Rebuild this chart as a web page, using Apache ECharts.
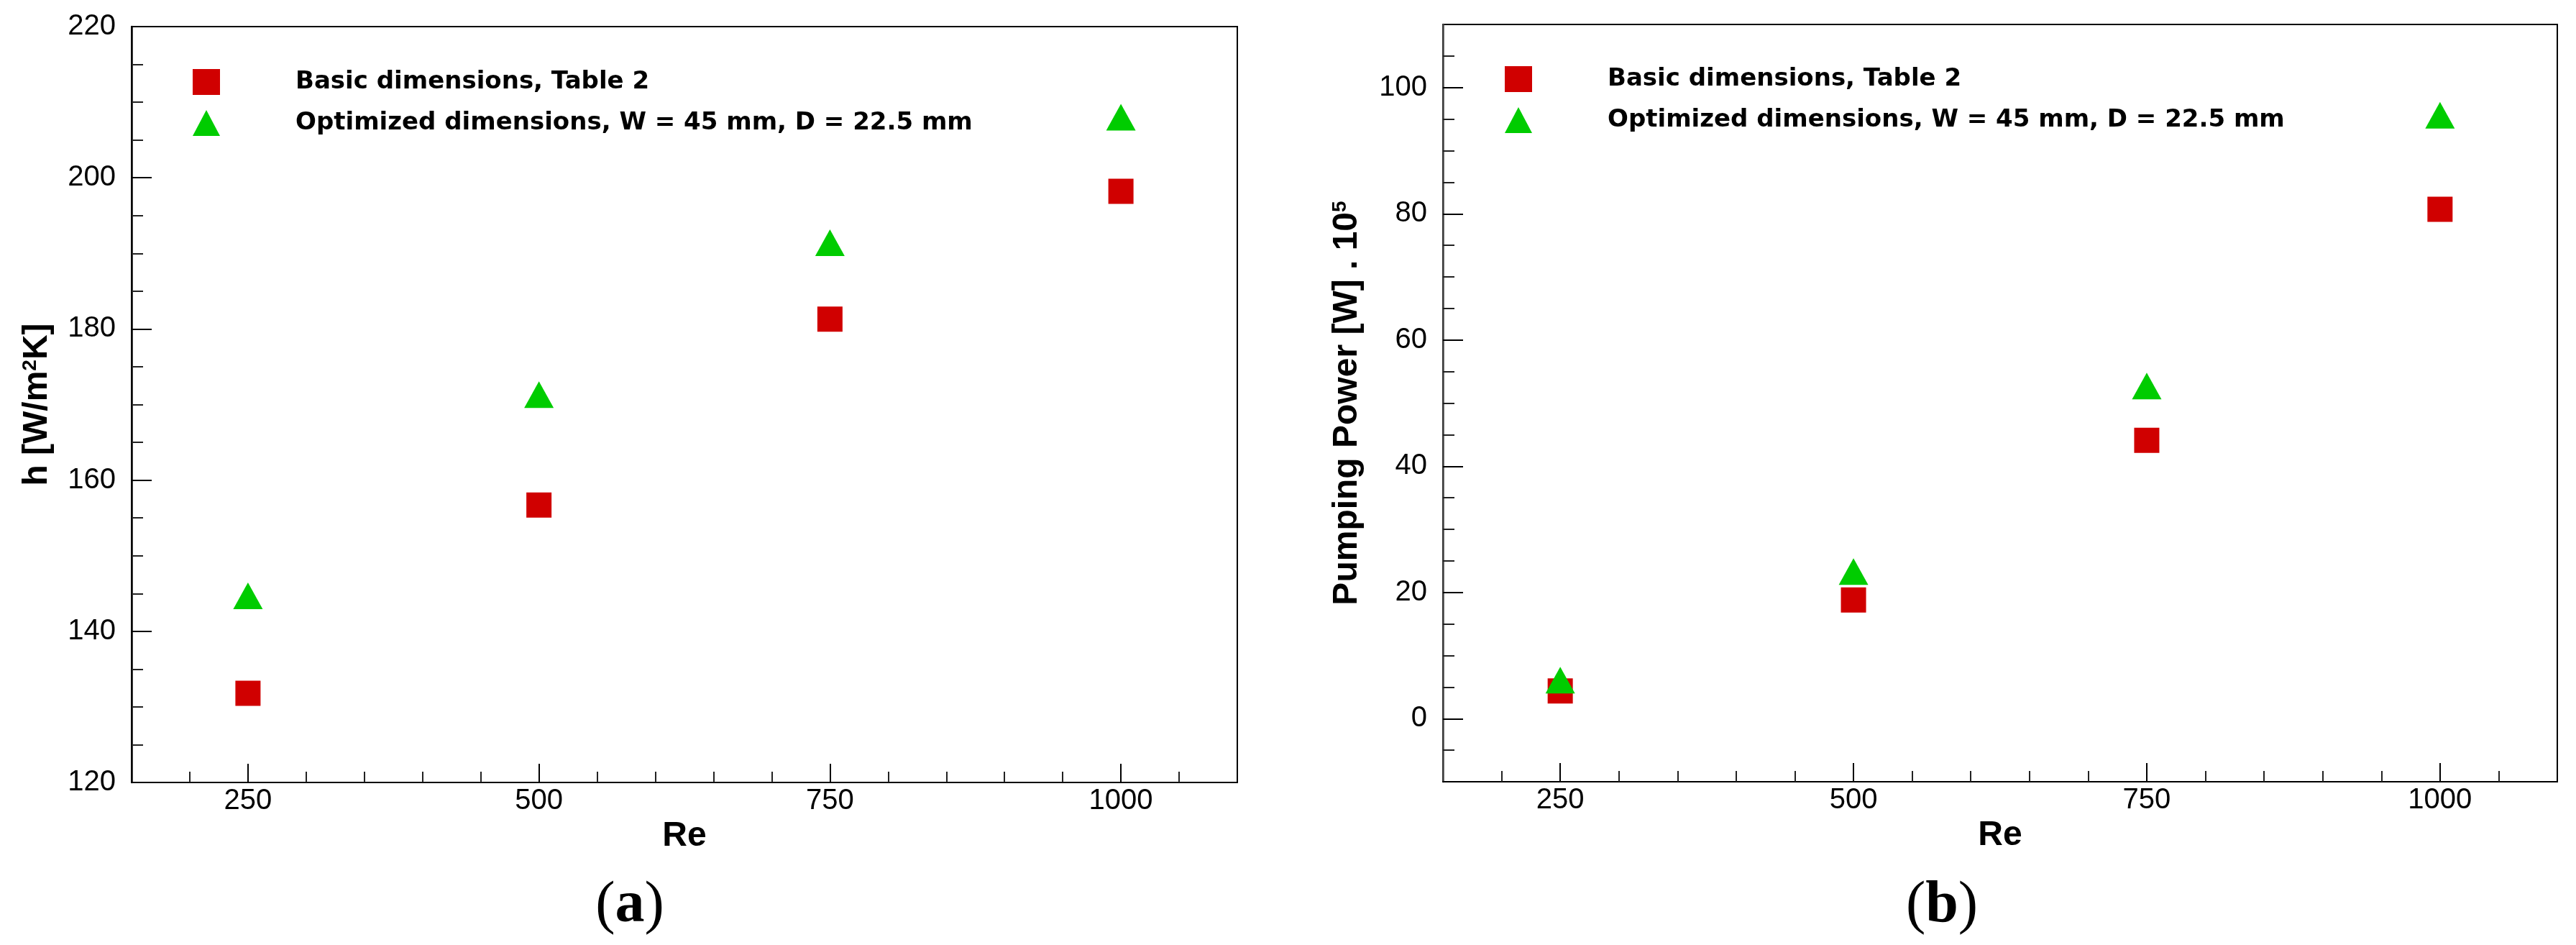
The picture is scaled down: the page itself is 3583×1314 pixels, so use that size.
<!DOCTYPE html>
<html>
<head>
<meta charset="utf-8">
<script src="https://cdn.jsdelivr.net/npm/echarts@6/dist/echarts.min.js"></script>
<style>
  html, body { margin: 0; padding: 0; background: #fff; }
  #chart { width: 3583px; height: 1314px; }
</style>
</head>
<body>
<div id="chart"></div>
<script>
// 数据：Re 数与两组尺寸的结果
const re = [250, 500, 750, 1000]
const hBasic = [131.8, 156.7, 181.3, 198.2]
const hOpt = [144.7, 171.3, 191.4, 208.0]
const ppBasic = [4.4, 18.8, 44.1, 80.7]
const ppOpt = [6.1, 23.3, 52.7, 95.6]

// 刻度
const reTicks = [250, 500, 750, 1000]
const reMinor = [200, 300, 350, 400, 450, 550, 600, 650, 700, 800, 850, 900, 950, 1050]
const hTicks = [120, 140, 160, 180, 200, 220]
const ppTicks = [0, 20, 40, 60, 80, 100]

const basicName = 'Basic dimensions, Table 2'
const optName = 'Optimized dimensions, W = 45 mm, D = 22.5 mm'

const RED = '#d00000'
const GREEN = '#00cc00'
const FONT = 'Liberation Sans, Arial, sans-serif'

// 次刻度：主刻度之间每隔 step
const minorOf = (min, max, step, majors) => {
    const out = []
    for (let v = min + step; v < max; v += step) {
        if (!majors.includes(v)) out.push(v)
    }
    return out
}

const pairs = (xs, ys) => xs.map((x, i) => [x, ys[i]])
const plain = (v) => String(v)

let chartInstance = echarts.init(document.getElementById('chart'))

// 主坐标轴（带标签和长刻度）
const mainX = (gridIndex) => ({
    type: 'value', gridIndex, position: 'bottom', min: 150, max: 1100,
    axisLine: { show: true, onZero: false, lineStyle: { color: '#000', width: 2 } },
    axisTick: { show: true, inside: true, length: 26, customValues: reTicks, lineStyle: { color: '#000', width: 2 } },
    axisLabel: { customValues: reTicks, formatter: plain, fontSize: 40, margin: 6, color: '#000', fontFamily: FONT },
    splitLine: { show: false },
    name: 'Re', nameLocation: 'middle', nameGap: 45,
    nameTextStyle: { fontSize: 48, fontWeight: 'bold', color: '#000', fontFamily: FONT }
})
// 次刻度轴（只画短刻度）
const minorX = (gridIndex) => ({
    type: 'value', gridIndex, position: 'bottom', min: 150, max: 1100,
    axisLine: { show: false, onZero: false },
    axisTick: { show: true, inside: true, length: 15, customValues: reMinor, lineStyle: { color: '#222', width: 2 } },
    axisLabel: { show: false },
    splitLine: { show: false }
})
const mainY = (gridIndex, min, max, ticks, name, gap, lineColor) => ({
    type: 'value', gridIndex, position: 'left', min, max,
    axisLine: { show: true, onZero: false, lineStyle: { color: lineColor, width: 2.5 } },
    axisTick: { show: true, inside: true, length: 28, customValues: ticks, lineStyle: { color: '#000', width: 2 } },
    axisLabel: { customValues: ticks, formatter: plain, fontSize: 40, margin: 22, color: '#000', fontFamily: FONT },
    splitLine: { show: false },
    name, nameLocation: 'middle', nameGap: gap,
    nameTextStyle: {
        color: '#000',
        rich: {
            t: { fontSize: 48, fontWeight: 'bold', fontFamily: FONT, color: '#000', lineHeight: 48 },
            s: { fontSize: 28, fontWeight: 'bold', fontFamily: FONT, color: '#000', verticalAlign: 'top' }
        }
    }
})
const minorY = (gridIndex, min, max, ticks) => ({
    type: 'value', gridIndex, position: 'left', min, max,
    axisLine: { show: false, onZero: false },
    axisTick: { show: true, inside: true, length: 16, customValues: ticks, lineStyle: { color: '#222', width: 2 } },
    axisLabel: { show: false },
    splitLine: { show: false }
})

const legendOf = (left, top) => ({
    orient: 'vertical', left, top,
    itemWidth: 38, itemHeight: 36, itemGap: 21,
    selectedMode: false,
    data: [basicName, optName],
    textStyle: {
        fontFamily: 'DejaVu Sans', fontWeight: 'bold', fontSize: 34, color: '#000',
        lineHeight: 36, padding: [0, 0, 0, 100]
    }
})

const scatter = (name, xi, yi, data, symbol, size, color) => ({
    name, type: 'scatter', xAxisIndex: xi, yAxisIndex: yi,
    data, symbol, symbolSize: size,
    itemStyle: { color, opacity: 1 },
    emphasis: { disabled: true }
})

const option = {
    backgroundColor: '#fff',
    animation: false,
    grid: [
        { left: 183, right: 1862, top: 37, bottom: 226, show: true, borderColor: '#000', borderWidth: 2, containLabel: false },
        { left: 2007, right: 26, top: 34, bottom: 227, show: true, borderColor: '#000', borderWidth: 2, containLabel: false }
    ],
    xAxis: [mainX(0), minorX(0), mainX(1), minorX(1)],
    yAxis: [
        mainY(0, 120, 220, hTicks, '{t|h [W/m}{s|2}{t|K]}', 107, '#000'),
        minorY(0, 120, 220, minorOf(120, 220, 5, hTicks)),
        mainY(1, -10, 110, ppTicks, '{t|Pumping Power [W] . 10}{s|5}', 109, '#444'),
        minorY(1, -10, 110, minorOf(-10, 110, 5, ppTicks.concat([-10])))
    ],
    legend: [legendOf(263, 91), legendOf(2088, 87)],
    series: [
        scatter(basicName, 0, 0, pairs(re, hBasic), 'rect', [35, 35], RED),
        scatter(optName, 0, 0, pairs(re, hOpt), 'triangle', [41, 37], GREEN),
        scatter(basicName, 2, 2, pairs(re, ppBasic), 'rect', [35, 35], RED),
        scatter(optName, 2, 2, pairs(re, ppOpt), 'triangle', [41, 37], GREEN)
    ],
    graphic: [
        {
            type: 'text', x: 876, y: 1260,
            style: {
                text: '{p|(}{b|a}{p|)}', textAlign: 'center', textVerticalAlign: 'middle',
                rich: {
                    p: { fontFamily: 'Liberation Serif', fontSize: 82, fill: '#000' },
                    b: { fontFamily: 'Liberation Serif', fontSize: 82, fontWeight: 'bold', fill: '#000' }
                }
            }
        },
        {
            type: 'text', x: 2701, y: 1260,
            style: {
                text: '{p|(}{b|b}{p|)}', textAlign: 'center', textVerticalAlign: 'middle',
                rich: {
                    p: { fontFamily: 'Liberation Serif', fontSize: 82, fill: '#000' },
                    b: { fontFamily: 'Liberation Serif', fontSize: 82, fontWeight: 'bold', fill: '#000' }
                }
            }
        }
    ]
}
chartInstance.setOption(option)
</script>
</body>
</html>
